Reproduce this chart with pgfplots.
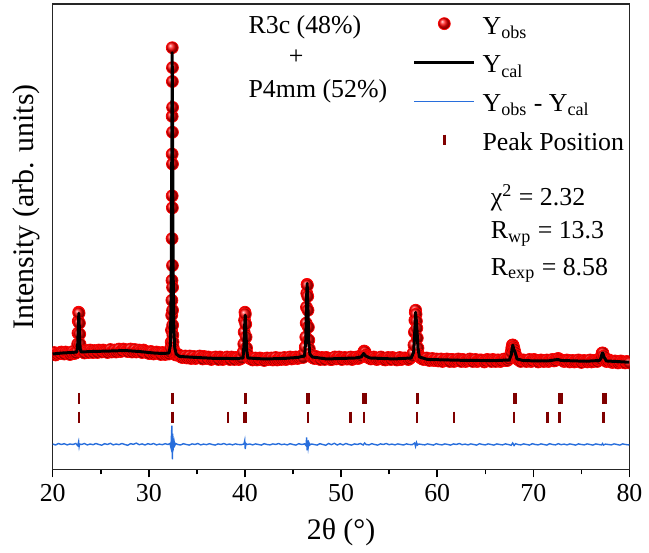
\documentclass[border=0pt]{standalone}
\usepackage{fontspec}
\setmainfont{Liberation Serif}
\usepackage{pgfplots}
\pgfplotsset{compat=1.18}
\usetikzlibrary{calc}
\definecolor{diffblue}{RGB}{40,110,220}
\definecolor{peakred}{RGB}{128,0,0}

\begin{document}
\begin{tikzpicture}
\begin{axis}[
  scale only axis, width=290pt, height=234pt,
  xmin=20, xmax=80, ymin=0, ymax=468,
  xtick={20,30,...,80}, minor x tick num=1,
  ytick=\empty,
  xtick pos=left, tick align=outside,
  major tick length=4pt, minor tick length=2.5pt,
  every tick/.style={black, line width=0.75pt},
  axis line style={line width=0.75pt, black!85},
  tick label style={font=\fontsize{13}{15}\selectfont},
  /pgf/number format/assume math mode=true,
  xlabel={2θ (°)},
  xlabel style={font=\fontsize{15}{18}\selectfont, at={(axis description cs:0.5,-0.1346)}, anchor=center},
  ylabel={Intensity (arb. units)},
  ylabel style={font=\fontsize{15}{18}\selectfont, at={(axis description cs:-0.045,0.564)}, anchor=center},
  clip marker paths=true,
  legend cell align=left,
  legend style={at={(axis description cs:0.624,0.981)}, anchor=north west, draw=none, fill=none,
    inner xsep=0pt, inner ysep=0pt, row sep=9pt, font=\fontsize{13}{15}\selectfont,
    nodes={inner xsep=3.5pt, inner ysep=0pt, text height=10.5pt, text depth=0pt}},
  legend image code/.code={\draw[mark repeat=2,mark phase=2,#1] plot coordinates {(0pt,0pt) (15pt,0pt) (30pt,0pt)};},
]
% Y_obs
\addplot[only marks, mark=ball, color=red, ball color=red, mark size=3pt, mark options={ball color=red}] table {
x y
20.0 116.5
20.15 117.5
20.3 115
20.45 116
20.6 117
20.75 116.5
20.9 118
21.05 117.5
21.2 116
21.35 118
21.5 117
21.65 116.5
21.8 115.5
21.95 117
22.1 118.5
22.25 116.5
22.4 117
22.55 119
22.6 126
22.63 137
22.66 149
22.7 158
22.74 157
22.78 147
22.81 136
22.84 126
22.9 119
23.0 119
23.15 118
23.3 117
23.45 119.5
23.6 118.5
23.75 117.5
23.9 120
24.05 118.5
24.2 117.5
24.35 119.5
24.5 118.5
24.65 117.5
24.8 120
24.95 119
25.1 118
25.25 120
25.4 119
25.55 118.5
25.7 117.5
25.85 119
26.0 120.5
26.15 118
26.3 119
26.45 120
26.6 118
26.75 119.5
26.9 121
27.05 118.5
27.2 119
27.35 121
27.5 120.5
27.65 119
27.8 118.5
27.95 120
28.1 121
28.25 118
28.4 119.5
28.55 120.5
28.7 118
28.85 119
29.0 120
29.15 118.5
29.3 117.5
29.45 120
29.6 119
29.75 118
29.9 117
30.05 116.5
30.2 118.5
30.35 118
30.5 116
30.65 117
30.8 118
30.95 117.5
31.1 116.5
31.25 115.5
31.4 117.5
31.55 117
31.7 115.5
31.85 116.5
32.0 117.5
32.1 116
32.2 118
32.28 122
32.33 128
32.36 140
32.38 155
32.4 170
32.41 190
32.42 232
32.43 275
32.43 317
32.43 355
32.44 424
32.46 404
32.45 390
32.47 364
32.46 339
32.46 307
32.45 263
32.46 205
32.47 183
32.47 160
32.48 145
32.5 135
32.52 128
32.55 122
32.6 119
32.7 117
32.8 115
32.9 116
33.05 115.5
33.2 114.5
33.35 113
33.5 112.5
33.65 113.5
33.8 114
33.95 112
34.1 113
34.25 114
34.4 111.5
34.55 112.5
34.7 113.5
34.85 111.5
35.0 112
35.15 113
35.3 114
35.45 112
35.6 111
35.75 113.5
35.9 112.5
36.05 111.5
36.2 113
36.35 112
36.5 110.5
36.65 111.5
36.8 112.5
36.95 113
37.1 111
37.25 110.5
37.4 113
37.55 112
37.7 110.5
37.85 111.5
38.0 112
38.15 113
38.3 111
38.45 110.5
38.6 113
38.75 111.5
38.9 110.5
39.05 112.5
39.2 112
39.35 110.5
39.5 111
39.65 112
39.82 118
39.88 126
39.92 138
39.96 150
40.0 158
40.04 156
40.08 146
40.12 133
40.17 122
40.25 116
40.35 112.5
40.5 111.5
40.65 111
40.8 110
40.95 111.5
41.1 112
41.25 110
41.4 110.5
41.55 112
41.7 111.5
41.85 110.5
42.0 109.5
42.15 111
42.3 112
42.45 110.5
42.6 111
42.75 112
42.9 110
43.05 111
43.2 112.5
43.35 110
43.5 111
43.65 112
43.8 110.5
43.95 111.5
44.1 112.5
44.25 110.5
44.4 111
44.55 112
44.7 113
44.85 111
45.0 111.5
45.15 112.5
45.3 113
45.45 111.5
45.6 112
45.75 113
45.9 114
46.05 112.5
46.2 117
46.28 123
46.33 133
46.37 147
46.4 163
46.43 177
46.46 186
46.5 185
46.53 174
46.56 160
46.6 143
46.64 130
46.7 121
46.8 116
46.95 113
47.1 112
47.25 111.5
47.4 113.5
47.55 112
47.7 111
47.85 110.5
48.0 112.5
48.15 111.5
48.3 110.5
48.45 112.5
48.6 112
48.75 111
48.9 110.5
49.05 110.5
49.2 112
49.35 113
49.5 111
49.65 112
49.8 113
49.95 111
50.1 110.5
50.25 112
50.4 112.5
50.55 111
50.7 111
50.85 112
51.0 113
51.15 110.5
51.3 111.5
51.45 112.5
51.6 113
51.75 111.5
51.9 112
52.0 113
52.1 114
52.3 117
52.4 119
52.5 118
52.6 115
52.7 113.5
52.8 112.5
52.95 112
53.1 111
53.25 112
53.4 113
53.55 111.5
53.7 110.5
53.85 111
54.0 112
54.15 113
54.3 111
54.45 110.5
54.6 110
54.75 111.5
54.9 112.5
55.05 111
55.2 110.5
55.35 112.5
55.5 111.5
55.65 111
55.8 110
55.95 111.5
56.1 112.5
56.25 110.5
56.4 111
56.55 112
56.7 112
56.85 111
57.0 110.5
57.15 111.5
57.3 113
57.4 114
57.5 117
57.58 125
57.63 138
57.68 150
57.72 158
57.76 160
57.8 156
57.84 149
57.88 142
57.93 132
58.0 122
58.1 115
58.2 113
58.3 112
58.45 111
58.6 110.5
58.75 111.5
58.9 112
59.05 110
59.2 109.5
59.35 110.5
59.5 111.5
59.65 109.5
59.8 110
59.95 111
60.1 109
60.25 110
60.4 111
60.55 108.5
60.7 109.5
60.85 110
61.0 111
61.15 109.5
61.3 108.5
61.45 110.5
61.6 110.5
61.75 108.5
61.9 109.5
62.05 110
62.2 111
62.35 109.5
62.5 108.5
62.65 110.5
62.8 110
62.95 108.5
63.1 109
63.25 110
63.4 111
63.55 109.5
63.7 108.5
63.85 110
64.0 110.5
64.15 108.5
64.3 109
64.45 110
64.6 110
64.75 109.5
64.9 108
65.05 109
65.2 110.5
65.35 110
65.5 109
65.65 108.5
65.8 110.5
65.95 109.5
66.1 108.5
66.25 110
66.4 110
66.55 108.5
66.7 109
66.85 110.5
67.0 111
67.15 109.5
67.3 109.5
67.45 111
67.6 113
67.7 118
67.76 122
67.82 125
67.88 125
67.94 123
68.0 121
68.08 118
68.16 115
68.26 112
68.33 111.5
68.4 110.5
68.55 109.5
68.7 108.5
68.85 110
69.0 110
69.15 109
69.3 108.5
69.45 109.5
69.6 110.5
69.75 108.5
69.9 109
70.05 110.5
70.2 110
70.35 109
70.5 108
70.65 109.5
70.8 110
70.95 109
71.1 108.5
71.25 109.5
71.4 110
71.55 108.5
71.7 109
71.85 110
72.0 110.5
72.15 109
72.3 109.5
72.45 111
72.6 111.5
72.75 110.5
72.9 110
73.05 109.5
73.2 108.5
73.35 109
73.5 110
73.65 109.5
73.8 108
73.95 109
74.1 109.5
74.25 108
74.4 108.5
74.55 109.5
74.7 110
74.85 108.5
75.0 107.5
75.15 109
75.3 109.5
75.45 108.5
75.6 108
75.75 109
75.9 110
76.05 108
76.2 108.5
76.35 109.5
76.5 109.5
76.65 108.5
76.8 110
76.9 110
77.0 111
77.08 114
77.16 117
77.24 117
77.32 114
77.42 111
77.5 109.5
77.6 108.5
77.75 109
77.9 110
78.05 108.5
78.2 107.5
78.35 108
78.5 109
78.65 108.5
78.8 107
78.95 108
79.1 109
79.25 108
79.4 107.5
79.55 107
79.7 108.5
79.85 108
80.0 107
};
\addlegendentry{Y\textsubscript{obs}}
% Y_cal
\addplot[black, line width=1.5pt, line join=round] table {
x y
20 116
21 117
22 117.5
22.5 118
22.6 125
22.65 140
22.72 157
22.8 135
22.85 122
22.95 118
24 118.5
26 119
27.5 119.5
29 118.5
30.5 117
31.5 116.5
32.1 117
32.25 125
32.32 180
32.38 300
32.43 419
32.48 330
32.53 200
32.6 140
32.7 122
32.85 116
33.2 113.5
35 112.5
37 111.5
38.3 111.5
39 111.3
39.8 112
39.9 125
39.97 145
40.03 155
40.1 138
40.18 120
40.3 112
42 111
44 111.5
45.5 112.5
46.2 114
46.33 130
46.4 170
46.47 187
46.55 165
46.63 130
46.75 116
47 113
48.5 111
50 111.5
51.5 112
52.1 113
52.35 116.5
52.55 114
53 112
55.5 111
57.3 112
57.55 118
57.65 135
57.75 158
57.83 150
57.9 140
58.0 122
58.15 113
59 110.5
62.4 109.7
65.9 109.3
67.5 110
67.7 115
67.8 122
67.87 125
67.95 121
68.1 118
68.3 111
69 109.3
71.5 109
72.55 110.5
72.9 109.5
75.5 108.7
76.9 109.5
77.05 112
77.15 116.5
77.22 117
77.35 113
77.6 109
80 107.7
};
\addlegendentry{Y\textsubscript{cal}}
% difference
\addplot[diffblue, line width=0.7pt] table {
x y
20.0 25.5
20.3 24.5
20.6 26
20.9 25
21.2 25.8
21.5 24.6
21.8 25.5
22.1 25
22.4 26
22.6 24
22.7 28
22.75 23
22.8 25.5
23.0 25
23.3 26
23.6 24.5
23.9 25.5
24.2 24.8
24.5 26
24.8 25
25.1 24.3
25.4 25.8
25.7 25
26.0 26.2
26.3 24.6
26.6 25.5
26.9 24.8
27.2 26
27.5 25
27.8 24.2
28.1 25.8
28.4 25.2
28.7 26.4
29.0 24.8
29.3 25.6
29.6 24.5
29.9 25.8
30.2 25
30.5 26
30.8 24.6
31.1 25.4
31.4 24.8
31.7 25.8
32.0 25
32.2 26
32.3 22
32.35 33
32.4 44
32.43 18
32.46 10
32.49 36
32.52 19
32.55 30
32.6 22
32.65 27
32.7 24
32.8 26
33.0 25
33.3 24.5
33.6 25.8
33.9 25
34.2 24.4
34.5 25.6
34.8 25
35.1 26
35.4 24.6
35.7 25.4
36.0 24.8
36.3 25.8
36.6 25
36.9 24.4
37.2 25.6
37.5 25
37.8 26
38.1 24.8
38.4 25.5
38.7 24.6
39.0 25.6
39.3 25
39.6 24.8
39.9 25.5
39.98 29
40.03 20.5
40.1 26
40.2 25
40.5 25.5
40.8 24.6
41.1 25.6
41.4 25
41.7 24.4
42.0 25.8
42.3 25
42.6 24.6
42.9 25.6
43.2 25
43.5 26
43.8 24.8
44.1 25.4
44.4 24.6
44.7 25.8
45.0 25
45.3 24.4
45.6 25.8
45.9 25
46.2 25.6
46.35 24
46.42 32
46.47 19
46.52 29
46.58 22
46.65 27
46.75 24.5
46.9 25.5
47.2 25
47.5 24.4
47.8 25.8
48.1 25
48.4 24.2
48.7 26
49.0 24.8
49.3 26.2
49.6 24.5
49.9 25.8
50.2 24.6
50.5 26
50.8 25
51.1 24.4
51.4 25.6
51.7 25
52.0 26
52.3 24.5
52.45 26.5
52.6 25
52.9 24.6
53.2 25.8
53.5 25
53.8 24.4
54.1 25.6
54.4 25
54.7 26
55.0 24.8
55.3 25.4
55.6 24.6
55.9 25.6
56.2 25
56.5 24.5
56.8 25.6
57.1 25
57.4 24.8
57.65 26.5
57.75 23
57.85 27
57.95 24.5
58.1 25.5
58.4 25
58.7 24.6
59.0 25.6
59.3 25
59.6 24.4
59.9 25.8
60.2 25
60.5 24.6
60.8 25.6
61.1 25
61.4 24.4
61.7 25.6
62.0 25
62.3 26
62.6 24.8
62.9 25.4
63.2 24.6
63.5 25.6
63.8 25
64.1 24.4
64.4 25.8
64.7 25
65.0 24.6
65.3 25.6
65.6 25
65.9 24.4
66.2 25.6
66.5 25
66.8 24.6
67.1 25.6
67.4 25
67.7 24.2
67.85 26.5
68.0 24
68.15 25.8
68.4 25
68.7 24.6
69.0 25.6
69.3 25
69.6 24.4
69.9 25.8
70.2 25
70.5 24.6
70.8 25.6
71.1 25
71.4 24.4
71.7 25.8
72.0 25
72.3 24.6
72.6 25.8
72.9 24.8
73.2 25.4
73.5 24.6
73.8 25.6
74.1 25
74.4 24.4
74.7 25.6
75.0 25
75.3 24.6
75.6 25.6
75.9 25
76.2 24.4
76.5 25.6
76.8 25
77.1 24.6
77.2 26
77.3 24.4
77.5 25.4
77.8 25
78.1 24.6
78.4 25.6
78.7 25
79.0 24.4
79.3 25.6
79.6 25
79.9 24.6
80.0 25
};
\addlegendentry{Y\textsubscript{obs} - Y\textsubscript{cal}}
% peak positions row 1
\addplot[only marks, mark=|, color=peakred, mark size=2.75pt, mark options={line width=1.3pt, solid}] table {
x y
22.72 71.5
32.45 71.5
40.03 71.5
46.48 71.5
46.68 71.5
52.35 71.5
52.55 71.5
57.95 71.5
67.97 71.5
68.17 71.5
72.65 71.5
72.95 71.5
77.3 71.5
77.55 71.5
};
\addlegendentry{Peak Position}
% peak positions row 2
\addplot[only marks, mark=|, color=peakred, mark size=2.75pt, mark options={line width=1.3pt, solid}, forget plot] table {
x y
22.72 52.5
32.45 52.5
38.24 52.5
39.98 52.5
40.1 52.5
46.55 52.5
50.97 52.5
52.38 52.5
57.9 52.5
61.76 52.5
67.97 52.5
71.5 52.5
72.7 52.5
77.28 52.5
};
\node[anchor=base west, font=\fontsize{13}{15}\selectfont] at (axis cs:39.65,438.7) {R3c (48\%)};
\node[anchor=center, font=\fontsize{13}{15}\selectfont] at (axis cs:45.34,414) {+};
\node[anchor=base west, font=\fontsize{13}{15}\selectfont] at (axis cs:39.65,373.7) {P4mm (52\%)};
\node[anchor=base west, font=\fontsize{13}{15}\selectfont] at (axis cs:64.86,265.3) {χ\textsuperscript{2} = 2.32};
\node[anchor=base west, font=\fontsize{13}{15}\selectfont] at (axis cs:64.86,232) {R\textsubscript{wp} = 13.3};
\node[anchor=base west, font=\fontsize{13}{15}\selectfont] at (axis cs:64.86,195.3) {R\textsubscript{exp} = 8.58};
\end{axis}
\path ($(current axis.south west)+(-26.5pt,-40.5pt)$) rectangle ($(current axis.north east)+(8pt,2pt)$);
\end{tikzpicture}
\end{document}
